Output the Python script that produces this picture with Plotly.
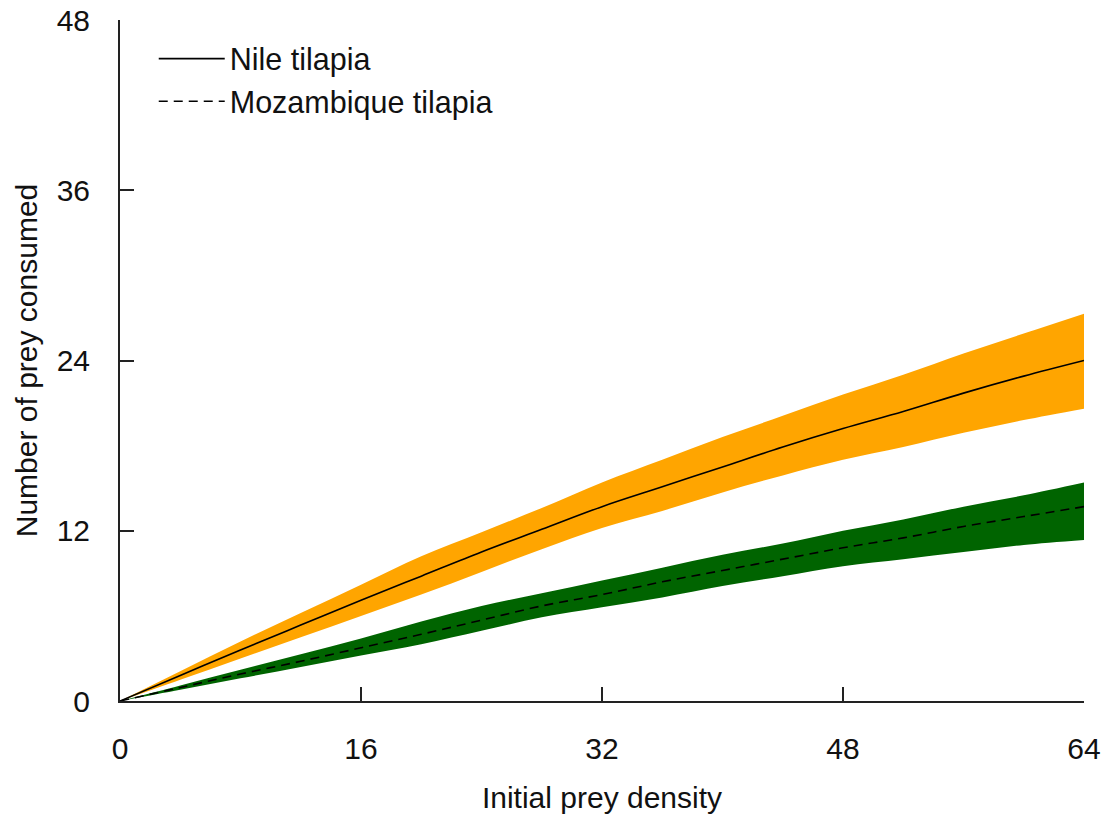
import plotly.graph_objects as go

# Initial prey density
density = [0, 4, 8, 12, 16, 20, 24, 28, 32, 36, 40, 44, 48, 52, 56, 60, 64]

# Nile tilapia: fitted mean and confidence band
nile_mean = [0, 1.8, 3.6, 5.35, 7.1, 8.8, 10.5, 12.1, 13.7, 15.1, 16.5, 17.9, 19.2, 20.4, 21.7, 22.9, 24.0]
nile_upper = [0, 2.1, 4.2, 6.2, 8.2, 10.2, 11.9, 13.6, 15.4, 17.0, 18.6, 20.1, 21.6, 23.0, 24.5, 25.9, 27.3]
nile_lower = [0, 1.5, 3.0, 4.5, 6.0, 7.5, 9.1, 10.7, 12.2, 13.4, 14.7, 15.9, 17.0, 17.9, 18.9, 19.8, 20.6]

# Mozambique tilapia: fitted mean and confidence band
moz_mean = [0, 0.95, 1.9, 2.8, 3.75, 4.7, 5.7, 6.7, 7.5, 8.4, 9.2, 10.0, 10.8, 11.5, 12.3, 13.0, 13.7]
moz_upper = [0, 1.1, 2.2, 3.3, 4.4, 5.6, 6.7, 7.6, 8.5, 9.4, 10.3, 11.1, 12.0, 12.8, 13.7, 14.5, 15.4]
moz_lower = [0, 0.8, 1.6, 2.4, 3.2, 4.0, 4.95, 5.9, 6.6, 7.3, 8.1, 8.8, 9.5, 10.0, 10.5, 11.0, 11.35]

x_ticks = [0, 16, 32, 48, 64]
y_ticks = [0, 12, 24, 36, 48]

FONT = "Liberation Sans, Arial, sans-serif"
FS = 30
TXT = "#111111"

fig = go.Figure()

# Bands
fig.add_trace(go.Scatter(x=density, y=nile_upper, mode="lines", line=dict(width=0, color="#FFA500", shape="spline"),
                         showlegend=False, hoverinfo="skip"))
fig.add_trace(go.Scatter(x=density, y=nile_lower, mode="lines", line=dict(width=0, color="#FFA500", shape="spline"),
                         fill="tonexty", fillcolor="#FFA500", showlegend=False, hoverinfo="skip"))
fig.add_trace(go.Scatter(x=density, y=moz_upper, mode="lines", line=dict(width=0, color="#006400", shape="spline"),
                         showlegend=False, hoverinfo="skip"))
fig.add_trace(go.Scatter(x=density, y=moz_lower, mode="lines", line=dict(width=0, color="#006400", shape="spline"),
                         fill="tonexty", fillcolor="#006400", showlegend=False, hoverinfo="skip"))

# Mean lines
fig.add_trace(go.Scatter(x=density, y=nile_mean, mode="lines", name="Nile tilapia",
                         line=dict(color="black", width=1.6, shape="spline")))
fig.add_trace(go.Scatter(x=density, y=moz_mean, mode="lines", name="Mozambique tilapia",
                         line=dict(color="black", width=1.6, dash="9px,6px", shape="spline")))

axis_common = dict(
    showline=True, linecolor="#222222", linewidth=2,
    ticks="inside", ticklen=14, tickwidth=2, tickcolor="#222222",
    showgrid=False, zeroline=False,
    tickfont=dict(family=FONT, size=FS, color=TXT),
    mirror=False,
)

fig.update_xaxes(range=[0, 64], tickvals=x_ticks, ticktext=[str(v) for v in x_ticks],
                 title=dict(text="Initial prey density", font=dict(family=FONT, size=FS, color=TXT),
                            standoff=28),
                 ticklabelstandoff=20, **axis_common)
fig.update_yaxes(range=[0, 48], tickvals=y_ticks, ticktext=[str(v) for v in y_ticks],
                 title=dict(text="Number of prey consumed", font=dict(family=FONT, size=FS, color=TXT),
                            standoff=10),
                 ticklabelstandoff=22, **axis_common)

fig.update_layout(
    width=1108, height=814,
    margin=dict(l=120, r=24, t=20, b=113, autoexpand=False),
    plot_bgcolor="white", paper_bgcolor="white",
    font=dict(family=FONT, size=FS, color=TXT),
    legend=dict(x=0.035, y=0.982, xanchor="left", yanchor="top", traceorder="normal",
                bgcolor="rgba(0,0,0,0)", font=dict(family=FONT, size=30.5, color=TXT),
                itemwidth=66, tracegroupgap=0),
    showlegend=True,
)

fig.write_html("out.html")
